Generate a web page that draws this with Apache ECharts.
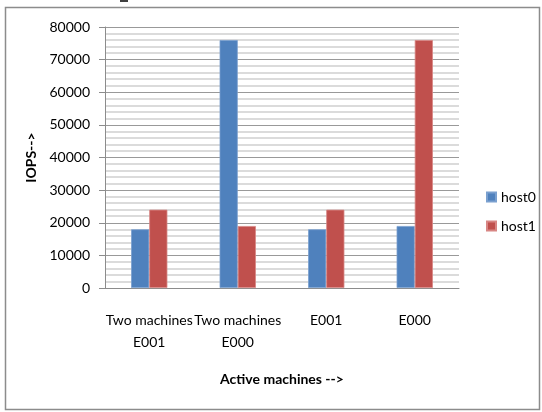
<!DOCTYPE html>
<html>
<head>
<meta charset="utf-8">
<script src="https://cdn.jsdelivr.net/npm/echarts@6/dist/echarts.min.js"></script>
<style>
  html, body { margin: 0; padding: 0; background: #ffffff; }
  #chart { width: 542px; height: 412px; }
</style>
</head>
<body>
<div id="chart"></div>
<script>
// Workload scenarios on the x axis
const categories = ['Two machines\nE001', 'Two machines\nE000', 'E001', 'E000'];
// IOPS measured per host
const host0 = [18000, 76000, 18000, 19000];
const host1 = [24000, 19000, 24000, 76000];
// Value axis ticks
const yTicks = [0, 10000, 20000, 30000, 40000, 50000, 60000, 70000, 80000];

const FONT = 'Lato, "Liberation Sans", sans-serif';

const chart = echarts.init(document.getElementById('chart'), null, { renderer: 'canvas' });

chart.setOption({
  animation: false,
  backgroundColor: '#ffffff',
  graphic: [
    {
      type: 'rect',
      shape: { x: 5.5, y: 7.5, width: 534, height: 402 },
      style: { fill: 'none', stroke: '#8c8c8c', lineWidth: 1.5 },
      silent: true
    },
    {
      type: 'rect',
      shape: { x: 120, y: 0, width: 8, height: 2 },
      style: { fill: '#404040' },
      silent: true
    }
  ],
  grid: { left: 105, top: 27, width: 354, height: 261, containLabel: false },
  legend: {
    orient: 'vertical',
    left: 481,
    top: 185,
    itemWidth: 9,
    itemHeight: 9,
    itemGap: 15,
    icon: 'rect',
    textStyle: { fontFamily: FONT, fontSize: 14, color: '#000' },
    data: ['host0', 'host1']
  },
  xAxis: {
    type: 'category',
    data: categories,
    name: 'Active machines -->',
    nameLocation: 'middle',
    nameGap: 84,
    nameTextStyle: { fontFamily: FONT, fontSize: 14, fontWeight: 'bold', color: '#000' },
    axisLine: { lineStyle: { color: '#8c8c8c', width: 1 } },
    axisTick: { show: false },
    axisLabel: {
      interval: 0,
      margin: 21,
      fontFamily: FONT,
      fontSize: 14,
      lineHeight: 22,
      color: '#000'
    }
  },
  yAxis: {
    type: 'value',
    min: yTicks[0],
    max: yTicks[yTicks.length - 1],
    interval: yTicks[1] - yTicks[0],
    name: 'IOPS-->',
    nameLocation: 'middle',
    nameGap: 64,
    nameTextStyle: { fontFamily: FONT, fontSize: 14, fontWeight: 'bold', color: '#000' },
    axisLine: { show: true, lineStyle: { color: '#8c8c8c', width: 1 } },
    axisTick: { show: true, length: 6, inside: false, lineStyle: { color: '#8c8c8c' } },
    axisLabel: {
      margin: 15,
      fontFamily: FONT,
      fontSize: 14,
      color: '#000',
      formatter: (v) => String(v)
    },
    splitLine: { show: true, lineStyle: { color: '#999999', width: 1 } },
    minorTick: { show: false, splitNumber: 5 },
    minorSplitLine: { show: true, lineStyle: { color: '#d0d0d0', width: 1.5 } }
  },
  series: [
    {
      name: 'host0',
      type: 'bar',
      data: host0,
      barGap: '0%',
      barCategoryGap: '59%',
      itemStyle: { color: '#4F81BD', borderColor: '#7aa0cf', borderWidth: 0.8 }
    },
    {
      name: 'host1',
      type: 'bar',
      data: host1,
      barGap: '0%',
      barCategoryGap: '59%',
      itemStyle: { color: '#C0504D', borderColor: '#d88684', borderWidth: 0.8 }
    }
  ]
});
</script>
</body>
</html>
